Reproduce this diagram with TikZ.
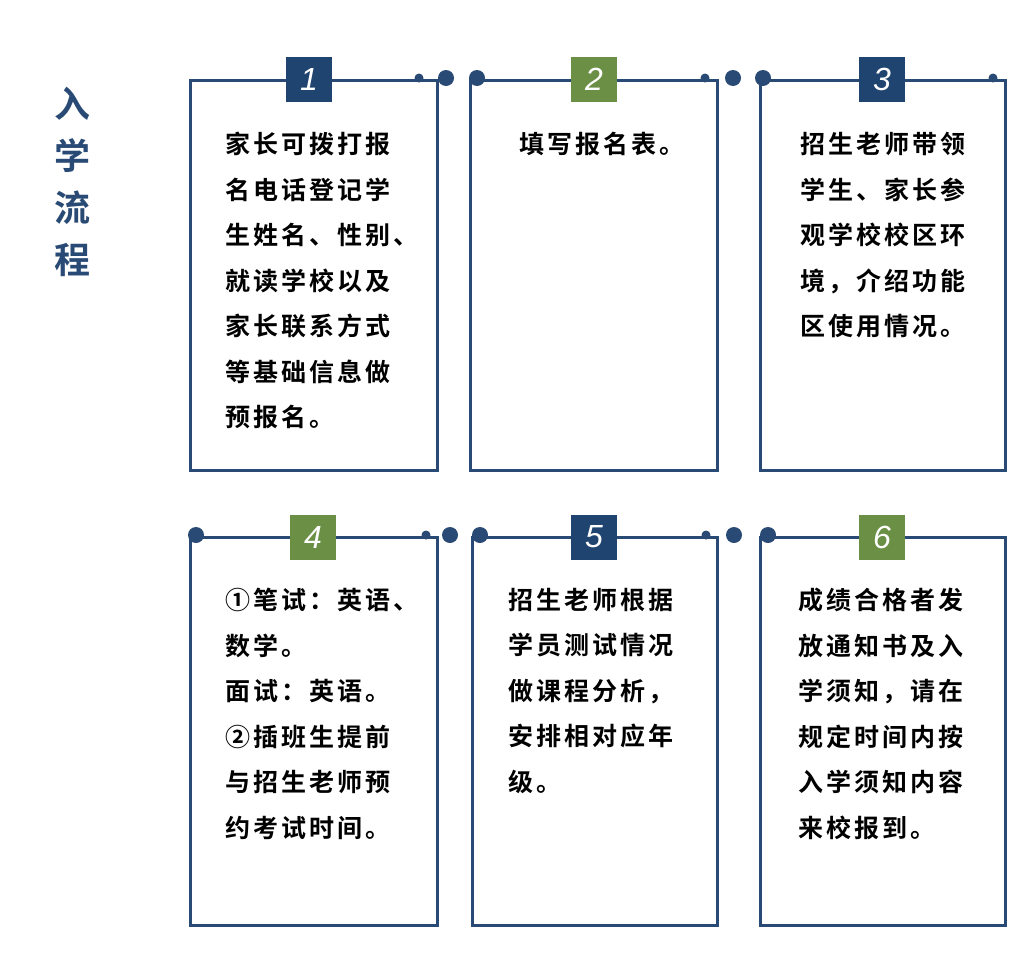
\documentclass[tikz,border=0pt]{standalone}
\usepackage{fontspec}
\setmainfont{Noto Sans CJK SC}
\newfontfamily\cjkbold{Noto Sans CJK SC Bold}
\newfontfamily\numfont{Liberation Sans}
\usetikzlibrary{positioning}
\definecolor{navy}{HTML}{294A74}
\definecolor{numblue}{HTML}{1F4470}
\definecolor{numgreen}{HTML}{6A8F45}

\begin{document}
\begin{tikzpicture}[
    x=1pt, y=-1pt,
    frame/.style = {draw=navy, line width=3pt},
    numbox/.style = {minimum width=46pt, minimum height=45pt, inner sep=0pt,
        text=white, font=\numfont\itshape\fontsize{32}{32}\selectfont},
    bigdot/.style = {fill=navy, circle, inner sep=0pt, minimum size=16pt},
    smalldot/.style = {fill=navy, circle, inner sep=0pt, minimum size=9pt},
    steptext/.style = {anchor=north west, align=left, inner sep=0pt,
        font=\cjkbold\addfontfeature{LetterSpace=12}\fontsize{25}{45.5}\selectfont}
]
\useasboundingbox (0,0) rectangle (1034,956);

% Title
\node[text=navy, align=center, font=\cjkbold\fontsize{36}{52}\selectfont] (title) at (72,182) {入\\学\\流\\程};

% Frames
\draw[frame] (190,80) rectangle (437,470);
\draw[frame] (470,80) rectangle (717,470);
\draw[frame] (760,80) rectangle (1005,470);
\draw[frame] (190,537) rectangle (437,925);
\draw[frame] (472,537) rectangle (717,925);
\draw[frame] (760,537) rectangle (1005,925);

% Dots
\node[smalldot] (s1) at (419,78) {};
\node[bigdot] (b1) at (446,78) {};
\node[bigdot] (b2) at (477,78) {};
\node[smalldot] (s2) at (705,78) {};
\node[bigdot] (b3) at (733,78) {};
\node[bigdot] (b4) at (763,78) {};
\node[smalldot] (s3) at (993,78) {};
\node[bigdot] (b5) at (196,535) {};
\node[smalldot] (s4) at (426,535) {};
\node[bigdot] (b6) at (450,535) {};
\node[bigdot] (b7) at (480,535) {};
\node[smalldot] (s5) at (706,535) {};
\node[bigdot] (b8) at (734,535) {};
\node[bigdot] (b9) at (768,535) {};

% Numbers
\node[numbox, fill=numblue] (n1) at (309,79) {1};
\node[numbox, fill=numgreen] (n2) at (594,79) {2};
\node[numbox, fill=numblue] (n3) at (882,79) {3};
\node[numbox, fill=numgreen] (n4) at (313,537) {4};
\node[numbox, fill=numblue] (n5) at (594,537) {5};
\node[numbox, fill=numgreen] (n6) at (882,537) {6};

% Texts
\node[steptext] (t1) at (225,132) {家长可拨打报\\名电话登记学\\生姓名、性别、\\就读学校以及\\家长联系方式\\等基础信息做\\预报名。};
\node[steptext] (t2) at (519,132) {填写报名表。};
\node[steptext] (t3) at (800,132) {招生老师带领\\学生、家长参\\观学校校区环\\境，介绍功能\\区使用情况。};
\node[steptext] (t4) at (225,588) {①笔试：英语、\\数学。\\面试：英语。\\②插班生提前\\与招生老师预\\约考试时间。};
\node[steptext] (t5) at (508,588) {招生老师根据\\学员测试情况\\做课程分析，\\安排相对应年\\级。};
\node[steptext] (t6) at (798,588) {成绩合格者发\\放通知书及入\\学须知，请在\\规定时间内按\\入学须知内容\\来校报到。};
\end{tikzpicture}
\end{document}
